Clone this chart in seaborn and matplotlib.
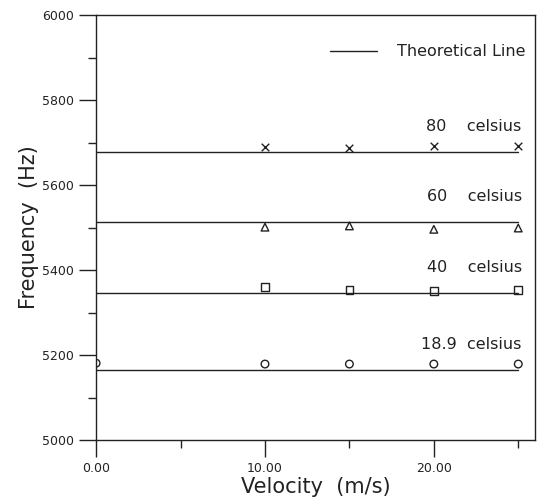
import matplotlib
matplotlib.use("Agg")
import matplotlib.pyplot as plt
from matplotlib.ticker import MultipleLocator, FormatStrFormatter
import seaborn as sns
import pandas as pd

sns.set_style("ticks")
plt.rcParams["font.family"] = ["DejaVu Sans"]

# data
velocity = [0, 10, 15, 20, 25]
temps = ["18.9", "40", "60", "80"]
theory = {"18.9": 5165, "40": 5346, "60": 5513, "80": 5678}
measured = {
    "18.9": [5181, 5179, 5179, 5179, 5179],
    "40": [None, 5360, 5353, 5351, 5353],
    "60": [None, 5501, 5504, 5496, 5499],
    "80": [None, 5690, 5687, 5692, 5692],
}
markers = {"18.9": "o", "40": "s", "60": "^", "80": "x"}

line_df = pd.DataFrame(
    [(t, v, theory[t]) for t in temps for v in (0, 25)],
    columns=["Temp", "Velocity", "Frequency"],
)
pts_df = pd.DataFrame(
    [(t, v, f) for t in temps for v, f in zip(velocity, measured[t]) if f is not None],
    columns=["Temp", "Velocity", "Frequency"],
)

fig = plt.figure(figsize=(5.4, 5.03), dpi=100)
ax = fig.add_axes([0.178, 0.125, 0.813, 0.845])

ink = "#222222"
for i, t in enumerate(temps):
    sns.lineplot(data=line_df[line_df["Temp"] == t], x="Velocity", y="Frequency",
                 color=ink, linewidth=1.0, ax=ax,
                 label="Theoretical Line" if i == 0 else None)
    sub = pts_df[pts_df["Temp"] == t]
    if markers[t] == "x":
        sns.scatterplot(data=sub, x="Velocity", y="Frequency", marker="x",
                        color=ink, s=30, linewidth=1.0, ax=ax, legend=False)
    else:
        sns.scatterplot(data=sub, x="Velocity", y="Frequency", marker=markers[t],
                        facecolor="none", edgecolor=ink, s=30, linewidth=1.0,
                        ax=ax, legend=False)

labels = {"80": "80    celsius", "60": "60    celsius",
          "40": "40    celsius", "18.9": "18.9  celsius"}
for t in temps:
    ax.text(25.2, theory[t] + 42, labels[t], ha="right", va="bottom",
            fontsize=11.5, color=ink)

ax.set_xlim(0, 26)
ax.set_ylim(5000, 6000)
ax.xaxis.set_major_locator(MultipleLocator(10))
ax.xaxis.set_minor_locator(MultipleLocator(5))
ax.xaxis.set_major_formatter(FormatStrFormatter("%.2f"))
ax.yaxis.set_major_locator(MultipleLocator(200))
ax.yaxis.set_minor_locator(MultipleLocator(100))
ax.tick_params(which="major", length=12, width=1.0, colors=ink, labelsize=9)
ax.tick_params(which="minor", length=6, width=1.0, colors=ink)
ax.tick_params(axis="y", pad=4)
for sp in ax.spines.values():
    sp.set_color(ink)
    sp.set_linewidth(1.0)

ax.set_xlabel("Velocity  (m/s)", fontsize=15, color=ink, labelpad=2)
ax.set_ylabel("Frequency  (Hz)", fontsize=15, color=ink, labelpad=2)

leg = ax.legend(loc="upper right", frameon=False, fontsize=11.5,
                handlelength=3.0, handletextpad=1.2,
                bbox_to_anchor=(1.01, 0.965))
for txt in leg.get_texts():
    txt.set_color(ink)

plt.savefig("out.png", dpi=100)
